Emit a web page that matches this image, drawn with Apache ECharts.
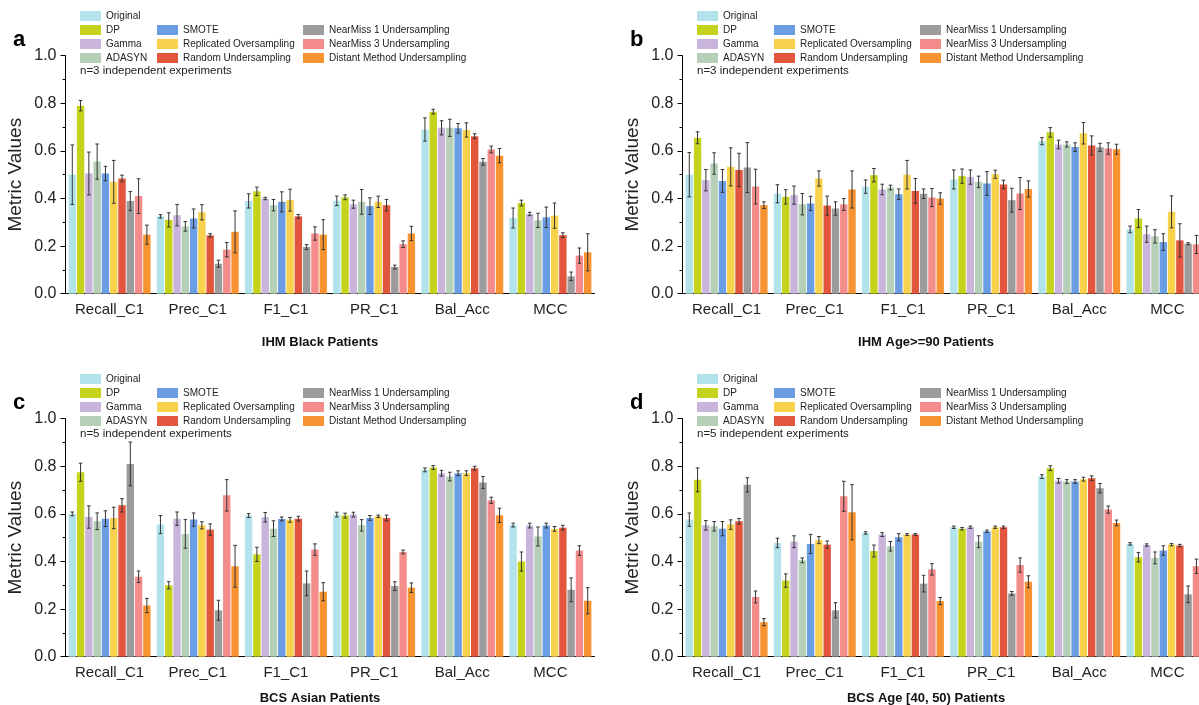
<!DOCTYPE html>
<html lang="en">
<head>
    <meta charset="UTF-8">
    <script src="https://cdn.jsdelivr.net/npm/echarts@6/dist/echarts.min.js"></script>
    <title>Metric Values</title>
</head>
<body style="margin:0;background:#fff;overflow:hidden">

<!-- a bit wider than the window so the right panels run off the edge like the original -->
<div id="chart" style="width: 1220px;height: 705px"></div>

<script type="text/javascript">
    // x categories and methods
    var metrics = ['Recall_C1', 'Prec_C1', 'F1_C1', 'PR_C1', 'Bal_Acc', 'MCC']
    var methods = ['Original', 'DP', 'Gamma', 'ADASYN', 'SMOTE', 'Replicated Oversampling',
        'Random Undersampling', 'NearMiss 1 Undersampling', 'NearMiss 3 Undersampling', 'Distant Method Undersampling']
    var colors = ['#b3e3ea', '#c5d31d', '#c9b5db', '#b6cfb7', '#6b9de2', '#f8d24d',
        '#e1563c', '#9c9c9c', '#f48c8c', '#f79431']
    var yTicks = [0, 0.2, 0.4, 0.6, 0.8, 1.0]

    // one row per method, one value per metric
    // a: IHM Black Patients
    var ihmBlackMean = [
        [0.50, 0.325, 0.39, 0.39, 0.69, 0.318],
        [0.79, 0.31, 0.43, 0.405, 0.765, 0.381],
        [0.505, 0.33, 0.40, 0.376, 0.697, 0.335],
        [0.555, 0.283, 0.372, 0.386, 0.697, 0.308],
        [0.505, 0.316, 0.386, 0.368, 0.695, 0.321],
        [0.47, 0.342, 0.393, 0.386, 0.688, 0.328],
        [0.484, 0.245, 0.325, 0.372, 0.662, 0.246],
        [0.389, 0.126, 0.196, 0.112, 0.554, 0.073],
        [0.41, 0.185, 0.253, 0.208, 0.606, 0.16],
        [0.248, 0.26, 0.248, 0.253, 0.58, 0.174]
    ]
    var ihmBlackErr = [
        [0.125, 0.007, 0.03, 0.02, 0.049, 0.042],
        [0.022, 0.03, 0.018, 0.01, 0.01, 0.012],
        [0.09, 0.045, 0.005, 0.017, 0.03, 0.007],
        [0.074, 0.02, 0.024, 0.052, 0.036, 0.03],
        [0.03, 0.04, 0.042, 0.035, 0.02, 0.043],
        [0.09, 0.032, 0.046, 0.024, 0.03, 0.053],
        [0.014, 0.007, 0.008, 0.024, 0.01, 0.01],
        [0.04, 0.015, 0.01, 0.008, 0.014, 0.018],
        [0.073, 0.03, 0.028, 0.014, 0.014, 0.032],
        [0.04, 0.088, 0.063, 0.03, 0.03, 0.078]
    ]

    // b: IHM Age>=90 Patients
    var ihmAgeMean = [
        [0.50, 0.42, 0.45, 0.48, 0.641, 0.27],
        [0.655, 0.407, 0.498, 0.494, 0.678, 0.316],
        [0.477, 0.414, 0.438, 0.49, 0.627, 0.25],
        [0.547, 0.376, 0.446, 0.47, 0.627, 0.241],
        [0.474, 0.379, 0.418, 0.463, 0.616, 0.217],
        [0.533, 0.484, 0.50, 0.502, 0.674, 0.344],
        [0.52, 0.37, 0.432, 0.459, 0.623, 0.224],
        [0.53, 0.358, 0.42, 0.393, 0.615, 0.21],
        [0.45, 0.375, 0.404, 0.421, 0.61, 0.207],
        [0.372, 0.438, 0.40, 0.44, 0.607, 0.23]
    ]
    var ihmAgeErr = [
        [0.093, 0.038, 0.028, 0.04, 0.015, 0.014],
        [0.025, 0.03, 0.028, 0.03, 0.02, 0.038],
        [0.045, 0.038, 0.022, 0.03, 0.018, 0.034],
        [0.045, 0.045, 0.01, 0.024, 0.011, 0.028],
        [0.048, 0.03, 0.022, 0.05, 0.018, 0.035],
        [0.08, 0.032, 0.06, 0.017, 0.045, 0.067],
        [0.07, 0.04, 0.052, 0.018, 0.04, 0.07],
        [0.105, 0.028, 0.02, 0.05, 0.017, 0.004],
        [0.073, 0.025, 0.038, 0.067, 0.024, 0.038],
        [0.014, 0.078, 0.024, 0.034, 0.021, 0.03]
    ]

    // c: BCS Asian Patients
    var bcsAsianMean = [
        [0.60, 0.555, 0.593, 0.597, 0.785, 0.553],
        [0.775, 0.30, 0.43, 0.593, 0.795, 0.40],
        [0.587, 0.58, 0.586, 0.597, 0.771, 0.551],
        [0.569, 0.516, 0.538, 0.552, 0.757, 0.505],
        [0.58, 0.576, 0.579, 0.583, 0.771, 0.551],
        [0.583, 0.552, 0.575, 0.59, 0.771, 0.537],
        [0.636, 0.534, 0.58, 0.583, 0.792, 0.542],
        [0.81, 0.195, 0.308, 0.297, 0.732, 0.281],
        [0.336, 0.678, 0.45, 0.44, 0.657, 0.446],
        [0.215, 0.38, 0.273, 0.29, 0.594, 0.235]
    ]
    var bcsAsianErr = [
        [0.008, 0.038, 0.008, 0.01, 0.008, 0.008],
        [0.038, 0.015, 0.03, 0.01, 0.008, 0.04],
        [0.047, 0.028, 0.02, 0.01, 0.012, 0.01],
        [0.035, 0.06, 0.033, 0.024, 0.018, 0.04],
        [0.033, 0.028, 0.008, 0.01, 0.01, 0.01],
        [0.045, 0.015, 0.01, 0.005, 0.01, 0.01],
        [0.028, 0.024, 0.01, 0.012, 0.008, 0.01],
        [0.092, 0.042, 0.052, 0.018, 0.025, 0.05],
        [0.024, 0.066, 0.024, 0.008, 0.013, 0.02],
        [0.03, 0.088, 0.038, 0.02, 0.03, 0.055]
    ]

    // d: BCS Age [40, 50) Patients
    var bcsAgeMean = [
        [0.576, 0.478, 0.52, 0.544, 0.757, 0.474],
        [0.743, 0.32, 0.444, 0.538, 0.792, 0.418],
        [0.552, 0.483, 0.513, 0.544, 0.739, 0.469],
        [0.548, 0.405, 0.464, 0.483, 0.736, 0.415],
        [0.538, 0.474, 0.502, 0.527, 0.736, 0.446],
        [0.555, 0.49, 0.513, 0.544, 0.746, 0.471],
        [0.569, 0.471, 0.513, 0.544, 0.75, 0.467],
        [0.722, 0.195, 0.307, 0.266, 0.708, 0.262],
        [0.251, 0.674, 0.367, 0.385, 0.618, 0.38],
        [0.145, 0.607, 0.234, 0.315, 0.562, 0.265]
    ]
    var bcsAgeErr = [
        [0.028, 0.02, 0.005, 0.005, 0.008, 0.005],
        [0.05, 0.028, 0.025, 0.005, 0.01, 0.02],
        [0.02, 0.025, 0.008, 0.005, 0.01, 0.005],
        [0.02, 0.01, 0.02, 0.025, 0.008, 0.025],
        [0.03, 0.04, 0.015, 0.005, 0.008, 0.02],
        [0.02, 0.015, 0.004, 0.005, 0.008, 0.005],
        [0.012, 0.015, 0.004, 0.005, 0.01, 0.005],
        [0.03, 0.032, 0.035, 0.008, 0.02, 0.035],
        [0.025, 0.063, 0.024, 0.03, 0.015, 0.03],
        [0.015, 0.116, 0.015, 0.025, 0.012, 0.02]
    ]

    var panels = [
        {letter: 'a', title: 'IHM Black Patients', note: 'n=3 independent experiments', mean: ihmBlackMean, err: ihmBlackErr, dx: 0, dy: 0},
        {letter: 'b', title: 'IHM Age>=90 Patients', note: 'n=3 independent experiments', mean: ihmAgeMean, err: ihmAgeErr, dx: 617, dy: 0},
        {letter: 'c', title: 'BCS Asian Patients', note: 'n=5 independent experiments', mean: bcsAsianMean, err: bcsAsianErr, dx: 0, dy: 363},
        {letter: 'd', title: 'BCS Age [40, 50) Patients', note: 'n=5 independent experiments', mean: bcsAgeMean, err: bcsAgeErr, dx: 617, dy: 363}
    ]

    var FONT = 'Liberation Sans, Arial, sans-serif'
    var CAT_GAP = 0.07
    var BAR_GAP = 0.12

    // error bar drawn at the k-th bar slot of the group
    function errorBar(k) {
        return function (params, api) {
            var band = api.size([1, 0])[0]
            var used = band * (1 - CAT_GAP)
            var w = used / (methods.length + (methods.length - 1) * BAR_GAP)
            var off = -used / 2 + k * w * (1 + BAR_GAP) + w / 2
            var lo = api.coord([api.value(0), api.value(1)])
            var hi = api.coord([api.value(0), api.value(2)])
            var x = lo[0] + off
            var cap = 1.8
            var st = {stroke: '#333', lineWidth: 1}
            return {
                type: 'group',
                children: [
                    {type: 'line', shape: {x1: x, y1: lo[1], x2: x, y2: hi[1]}, style: st},
                    {type: 'line', shape: {x1: x - cap, y1: hi[1], x2: x + cap, y2: hi[1]}, style: st},
                    {type: 'line', shape: {x1: x - cap, y1: lo[1], x2: x + cap, y2: lo[1]}, style: st}
                ]
            }
        }
    }

    var grids = [], xAxes = [], yAxes = [], series = [], legends = [], titles = [], texts = []

    panels.forEach(function (p, g) {
        grids.push({left: 65.5 + p.dx, top: 55.7 + p.dy, width: 529, height: 238})

        xAxes.push({
            gridIndex: g, type: 'category', data: metrics,
            axisLine: {lineStyle: {color: '#000', width: 1}},
            axisTick: {alignWithLabel: true, length: 5, lineStyle: {color: '#000'}},
            axisLabel: {interval: 0, fontSize: 15, color: '#222', margin: 9, fontFamily: FONT}
        })
        yAxes.push({
            gridIndex: g, type: 'value', min: 0, max: 1, interval: 0.2,
            name: 'Metric Values', nameLocation: 'middle', nameGap: 40,
            nameTextStyle: {fontSize: 19, color: '#222', fontFamily: FONT},
            axisLine: {show: true, lineStyle: {color: '#000', width: 1}},
            axisTick: {show: true, length: 5, lineStyle: {color: '#000'}},
            minorTick: {show: true, splitNumber: 2, length: 3, lineStyle: {color: '#000'}},
            splitLine: {show: false},
            axisLabel: {fontSize: 16, color: '#222', margin: 9, fontFamily: FONT,
                formatter: function (v) { return yTicks.indexOf(v) >= 0 ? v.toFixed(1) : '' }}
        })

        methods.forEach(function (m, k) {
            series.push({
                type: 'bar', name: m, xAxisIndex: g, yAxisIndex: g,
                data: p.mean[k],
                itemStyle: {color: colors[k]},
                barCategoryGap: (CAT_GAP * 100) + '%', barGap: (BAR_GAP * 100) + '%'
            })
        })
        methods.forEach(function (m, k) {
            series.push({
                type: 'custom', xAxisIndex: g, yAxisIndex: g, z: 5,
                renderItem: errorBar(k),
                data: p.mean[k].map(function (v, i) { return [i, v - p.err[k][i], v + p.err[k][i]] })
            })
        })

        // legend in three columns
        var lg = {
            orient: 'vertical', icon: 'rect', itemWidth: 21, itemHeight: 10, itemGap: 0,
            padding: 0, selectedMode: false,
            textStyle: {fontSize: 10, color: '#222', lineHeight: 14, fontFamily: FONT}
        }
        legends.push(Object.assign({}, lg, {data: methods.slice(0, 4), left: 80 + p.dx, top: 9 + p.dy}))
        legends.push(Object.assign({}, lg, {data: methods.slice(4, 7), left: 157 + p.dx, top: 23 + p.dy}))
        legends.push(Object.assign({}, lg, {data: methods.slice(7, 10), left: 303 + p.dx, top: 23 + p.dy}))

        titles.push({
            text: p.title, left: (p.dx ? 926 : 320), top: (p.dy ? 692 : 336), textAlign: 'center',
            padding: 0,
            textStyle: {fontSize: 13, fontWeight: 'bold', color: '#111', fontFamily: FONT}
        })

        texts.push({type: 'text', left: 13 + p.dx, top: 29 + p.dy,
            style: {text: p.letter, font: 'bold 22px ' + FONT, fill: '#000'}})
        texts.push({type: 'text', left: 80 + p.dx, top: 65 + p.dy,
            style: {text: p.note, font: '11.5px ' + FONT, fill: '#222'}})
    })

    var myChart = echarts.init(document.getElementById('chart'))
    var option = {
        animation: false,
        backgroundColor: '#fff',
        title: titles,
        legend: legends,
        grid: grids,
        xAxis: xAxes,
        yAxis: yAxes,
        series: series,
        graphic: texts
    }
    myChart.setOption(option)
</script>
</body>
</html>
